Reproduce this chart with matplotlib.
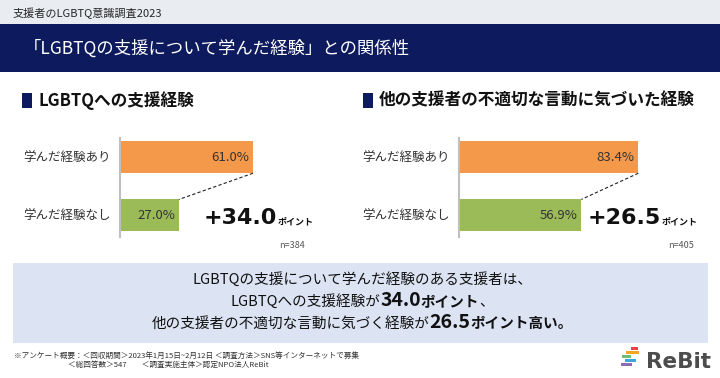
import matplotlib
matplotlib.use('Agg')
import matplotlib.pyplot as plt
from matplotlib.patches import Rectangle

# データ
categories = ['学んだ経験あり', '学んだ経験なし']
support_exp = [61.0, 27.0]      # LGBTQへの支援経験
noticed_exp = [83.4, 56.9]      # 他の支援者の不適切な言動に気づいた経験
n_support = 384
n_noticed = 405
panel_titles = ['LGBTQへの支援経験', '他の支援者の不適切な言動に気づいた経験']

JP = ['Noto Sans CJK JP', 'DejaVu Sans']
plt.rcParams['font.family'] = JP

NAVY = '#0E1A5E'
ORANGE = '#F4994A'
GREEN = '#9BBB59'
TXT = '#262626'

W, H = 720, 378
fig = plt.figure(figsize=(7.2, 3.78), dpi=100)
fig.patch.set_facecolor('white')


def fx(x):
    return x / W


def fy(y):
    return 1 - y / H


def rect(x0, y0, x1, y1, color):
    fig.patches.append(Rectangle((fx(x0), fy(y1)), fx(x1) - fx(x0), fy(y0) - fy(y1),
                                 transform=fig.transFigure, color=color, lw=0, zorder=0))


def rich_line(pieces, x, y, ha='left'):
    # 太さ・サイズの違う文字列を1行に並べる
    r = fig.canvas.get_renderer()
    texts = [fig.text(0, fy(y), s, va='baseline', ha='left', **kw) for s, kw in pieces]
    widths = [t.get_window_extent(r).width for t in texts]
    pos = x - sum(widths) / 2 if ha == 'center' else x
    for t, w in zip(texts, widths):
        t.set_x(fx(pos))
        pos += w


# ヘッダー
rect(0, 0, W, 24, '#E9ECF1')
fig.text(fx(13), fy(13), '支援者のLGBTQ意識調査2023', fontsize=8, color=TXT, va='center')
rect(0, 24, W, 72, NAVY)
fig.text(fx(24), fy(49), '「LGBTQの支援について学んだ経験」との関係性', fontsize=12.5,
         color='white', va='center')


def bar_panel(vals, n, title, head_x, axis_x, px_per_pct, big_x, n_x):
    rect(head_x, 93, head_x + 10, 108, NAVY)
    fig.text(fx(head_x + 16), fy(100.5), title, fontsize=12, fontweight='bold',
             color='#111111', va='center')

    ax = fig.add_axes([fx(axis_x), fy(237), 100 * px_per_pct / W, (237 - 138) / H])
    h = 0.55
    ax.barh([0, 1], vals, height=h, color=[ORANGE, GREEN])
    ax.set_xlim(0, 100)
    ax.set_ylim(1.37, -0.33)
    for s in ['top', 'right', 'bottom']:
        ax.spines[s].set_visible(False)
    ax.spines['left'].set_color('#BFBFBF')
    ax.spines['left'].set_linewidth(1.5)
    ax.set_xticks([])
    ax.set_yticks([0, 1])
    ax.set_yticklabels(categories, fontsize=9, color='#333333')
    ax.tick_params(axis='y', length=0, pad=7)
    ax.patch.set_alpha(0)
    for i, v in enumerate(vals):
        ax.annotate(f'{v:.1f}%', (v, i), xytext=(-2.5, 0), textcoords='offset points',
                    ha='right', va='center', fontsize=9.5, color='#333333')
    ax.plot([vals[0], vals[1]], [h / 2, 1 - h / 2], color='#222222', lw=0.8,
            ls=(0, (3, 2)), clip_on=False)

    diff = vals[0] - vals[1]
    rich_line([(f'+{diff:.1f}', dict(fontsize=16, fontweight='bold', color='#111111',
                                     family='DejaVu Sans')),
               ('ポイント', dict(fontsize=6.5, fontweight='bold', color='#111111'))],
              big_x, 224.5)
    fig.text(fx(n_x), fy(246), f'n={n}', fontsize=6.5, color='#555555', va='center')


bar_panel(support_exp, n_support, panel_titles[0], 22, 120, 2.18, 204, 279)
bar_panel(noticed_exp, n_noticed, panel_titles[1], 363, 459, 2.15, 588, 668)

# まとめボックス
rect(13, 263, 708, 343, '#DCE4F4')
reg = dict(fontsize=10.5, color='#111111')
bold = dict(fontsize=10.5, color='#111111', fontweight='bold')
num = dict(fontsize=14, color='#111111', fontweight='bold')
d1 = support_exp[0] - support_exp[1]
d2 = noticed_exp[0] - noticed_exp[1]
rich_line([('LGBTQの支援について学んだ経験のある支援者は、', reg)], 362, 284, 'center')
rich_line([('LGBTQへの支援経験が', reg), (f'{d1:.1f}', num), ('ポイント', bold), ('、', reg)],
          362, 306, 'center')
rich_line([('他の支援者の不適切な言動に気づく経験が', reg), (f'{d2:.1f}', num),
           ('ポイント高い。', bold)], 362, 328, 'center')

# フッター
fig.text(fx(14), fy(356),
         '※アンケート概要：＜回収期間＞2023年1月15日~2月12日 ＜調査方法＞SNS等インターネットで募集',
         fontsize=5.5, color='#333333', va='center')
fig.text(fx(68), fy(365), '＜総回答数＞547　　＜調査実施主体＞認定NPO法人ReBit',
         fontsize=5.5, color='#333333', va='center')

# ロゴ
for (x0, y0, x1, c) in [(631, 347, 638, '#E8424F'), (626, 351, 639, '#F5A623'),
                        (622, 355, 631, '#6DBE6E'), (625, 359, 636, '#3DA5D9'),
                        (621, 363, 632, '#8E6BB5')]:
    rect(x0, y0, x1, y0 + 3, c)
fig.text(fx(646), fy(362), 'ReBit', fontsize=15.5, fontweight='bold', color='#4D4D4D',
         va='center', family='DejaVu Sans')

fig.savefig('out.png', dpi=100)
